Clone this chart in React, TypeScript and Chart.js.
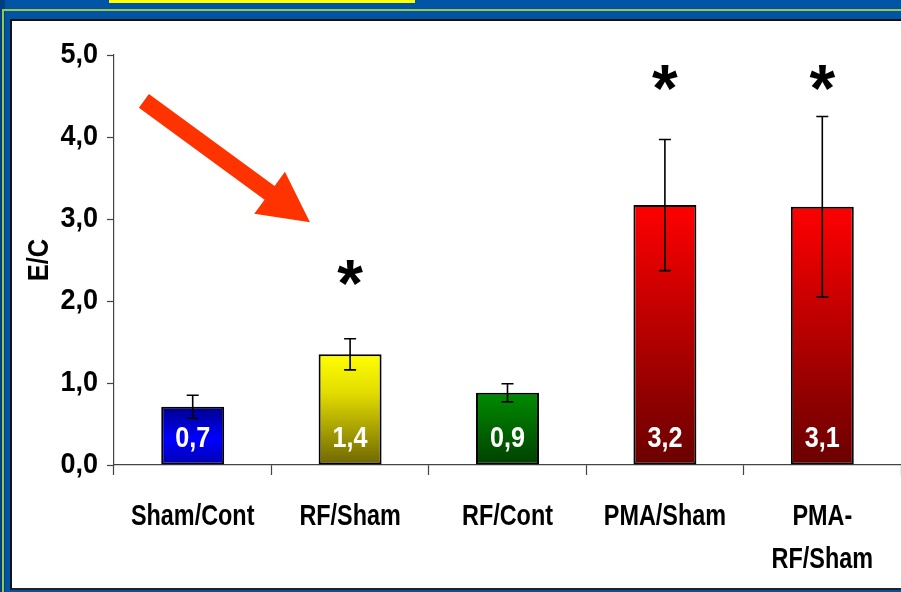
import React, { useEffect, useRef } from "react";
import { Chart, registerables } from "chart.js";

Chart.register(...registerables);

const categories: string[][] = [["Sham/Cont"], ["RF/Sham"], ["RF/Cont"], ["PMA/Sham"], ["PMA-", "RF/Sham"]];
const values = [0.71, 1.35, 0.88, 3.17, 3.15];
const errors = [0.14, 0.19, 0.11, 0.8, 1.1];
const valueLabels = ["0,7", "1,4", "0,9", "3,2", "3,1"];
const asteriskY: (number | null)[] = [null, 2.32, null, 4.7, 4.7];
const yTitle = "E/C";
const yMin = 0;
const yMax = 5;
const yStep = 1;
const barGradients: [number, string][][] = [
  [[0, "#00008a"], [0.55, "#0000ff"], [1, "#0000b0"]],
  [[0, "#ffff00"], [0.35, "#e2dc00"], [1, "#6e6600"]],
  [[0, "#008c00"], [1, "#004000"]],
  [[0, "#ff0000"], [1, "#6a0000"]],
  [[0, "#ff0000"], [1, "#6a0000"]],
];
const arrowTail = { x: -0.31, y: 4.44 };
const arrowTip = { x: 0.745, y: 2.96 };

const FONT = '"Liberation Sans", Arial, sans-serif';
const fmt = (v: number) => v.toFixed(1).replace(".", ",");

function condensedText(ctx: any, text: string, x: number, y: number, sx: number) {
  ctx.save();
  ctx.translate(x, y);
  ctx.scale(sx, 1);
  ctx.fillText(text, 0, 0);
  ctx.restore();
}

const overlayPlugin = {
  id: "overlay",
  afterDraw(chart: any) {
    const ctx = chart.ctx;
    const xs = chart.scales.x;
    const ys = chart.scales.y;
    const meta = chart.getDatasetMeta(0);
    ctx.save();
    // error bars
    ctx.strokeStyle = "#000";
    ctx.lineWidth = 1.6;
    meta.data.forEach((bar: any, i: number) => {
      const x = bar.x;
      const yt = ys.getPixelForValue(values[i] + errors[i]);
      const yb = ys.getPixelForValue(values[i] - errors[i]);
      ctx.beginPath();
      ctx.moveTo(x, yt);
      ctx.lineTo(x, yb);
      ctx.moveTo(x - 6, yt);
      ctx.lineTo(x + 6, yt);
      ctx.moveTo(x - 6, yb);
      ctx.lineTo(x + 6, yb);
      ctx.stroke();
    });
    // value labels
    ctx.fillStyle = "#fff";
    ctx.font = "bold 30px " + FONT;
    ctx.textAlign = "center";
    ctx.textBaseline = "middle";
    meta.data.forEach((bar: any, i: number) => {
      condensedText(ctx, valueLabels[i], bar.x, ys.getPixelForValue(0) - 26, 0.84);
    });
    // asterisks
    ctx.fillStyle = "#000";
    ctx.font = "bold 66px " + FONT;
    meta.data.forEach((bar: any, i: number) => {
      const a = asteriskY[i];
      if (a === null) return;
      ctx.fillText("*", bar.x, ys.getPixelForValue(a) + 13);
    });
    // x tick labels
    ctx.font = "bold 30px " + FONT;
    ctx.textBaseline = "middle";
    ctx.textAlign = "center";
    categories.forEach((lines, i) => {
      const x = xs.getPixelForValue(i);
      lines.forEach((ln, k) => {
        condensedText(ctx, ln, x, xs.top + 52 + k * 43, 0.78);
      });
    });
    // y tick labels
    ctx.textAlign = "right";
    for (let v = yMin; v <= yMax + 1e-9; v += yStep) {
      condensedText(ctx, fmt(v), ys.right - 16, ys.getPixelForValue(v), 0.9);
    }
    // y title
    ctx.save();
    ctx.translate(ys.left + 40, (ys.top + ys.bottom) / 2);
    ctx.rotate(-Math.PI / 2);
    ctx.textAlign = "center";
    ctx.font = "bold 30px " + FONT;
    condensedText(ctx, yTitle, 0, 0, 0.85);
    ctx.restore();
    // arrow
    const x1 = xs.getPixelForValue(arrowTail.x);
    const y1 = ys.getPixelForValue(arrowTail.y);
    const x2 = xs.getPixelForValue(arrowTip.x);
    const y2 = ys.getPixelForValue(arrowTip.y);
    const ang = Math.atan2(y2 - y1, x2 - x1);
    const len = Math.hypot(x2 - x1, y2 - y1);
    const headLen = 50;
    const headHalf = 26;
    const shaftHalf = 8.5;
    ctx.translate(x1, y1);
    ctx.rotate(ang);
    ctx.fillStyle = "#ff3300";
    ctx.beginPath();
    ctx.moveTo(0, -shaftHalf);
    ctx.lineTo(len - headLen, -shaftHalf);
    ctx.lineTo(len - headLen, -headHalf);
    ctx.lineTo(len, 0);
    ctx.lineTo(len - headLen, headHalf);
    ctx.lineTo(len - headLen, shaftHalf);
    ctx.lineTo(0, shaftHalf);
    ctx.closePath();
    ctx.fill();
    ctx.restore();
  },
};

export default function App() {
  const ref = useRef<HTMLCanvasElement | null>(null);
  useEffect(() => {
    if (!ref.current) return;
    const chart = new Chart(ref.current, {
      type: "bar",
      data: {
        labels: categories,
        datasets: [
          {
            data: values,
            backgroundColor: (c: any) => {
              const chartObj = c.chart;
              const ys = chartObj.scales && chartObj.scales.y;
              const i = c.dataIndex;
              if (!ys || i === undefined || i === null) return "#888";
              const top = ys.getPixelForValue(values[i]);
              const bot = ys.getPixelForValue(0);
              if (!isFinite(top) || !isFinite(bot) || top === bot) return barGradients[i][0][1];
              const g = chartObj.ctx.createLinearGradient(0, top, 0, bot);
              barGradients[i].forEach(([o, col]) => g.addColorStop(o, col));
              return g;
            },
            borderColor: "#000",
            borderWidth: 2,
            borderSkipped: false,
            categoryPercentage: 1,
            barPercentage: 0.4,
          },
        ],
      },
      options: {
        animation: false,
        responsive: false,
        maintainAspectRatio: false,
        events: [],
        layout: { padding: { top: 55, right: 0, bottom: 0, left: 0 } },
        plugins: { legend: { display: false }, tooltip: { enabled: false } },
        scales: {
          x: {
            offset: true,
            grid: { display: true, drawOnChartArea: false, offset: true, tickLength: 10, color: "#444", tickWidth: 1.2 },
            border: { display: true, color: "#444", width: 1.2 },
            ticks: { display: false, autoSkip: false },
            afterFit: (s: any) => {
              s.height = 127;
            },
          },
          y: {
            min: yMin,
            max: yMax,
            grid: { display: true, drawOnChartArea: false, tickLength: 7, color: "#444", tickWidth: 1.2 },
            border: { display: true, color: "#444", width: 1.2 },
            ticks: { display: false, stepSize: yStep },
            afterFit: (s: any) => {
              s.width = 114;
            },
          },
        },
      },
      plugins: [overlayPlugin],
    });
    return () => chart.destroy();
  }, []);

  return (
    <div style={{ position: "absolute", left: 0, top: 0, width: 901, height: 592, background: "#0054a6", overflow: "hidden" }}>
      <div style={{ position: "absolute", left: 0, top: 0, width: 5, height: 592, background: "#003f80" }} />
      <div
        style={{
          position: "absolute",
          left: 2,
          top: 9,
          width: 899,
          height: 583,
          borderLeft: "2px solid #9cc64a",
          borderTop: "2px solid #9cc64a",
          boxSizing: "border-box",
        }}
      />
      <div style={{ position: "absolute", left: 109, top: 0, width: 306, height: 3, background: "#ffff00" }} />
      <div
        style={{
          position: "absolute",
          left: 10,
          top: 19,
          width: 891,
          height: 571,
          background: "#fff",
          borderLeft: "2px solid #111",
          borderTop: "2px solid #111",
          borderBottom: "2px solid #222",
          boxSizing: "border-box",
        }}
      />
      <canvas ref={ref} width={901} height={592} style={{ position: "absolute", left: 0, top: 0, width: 901, height: 592 }} />
    </div>
  );
}
